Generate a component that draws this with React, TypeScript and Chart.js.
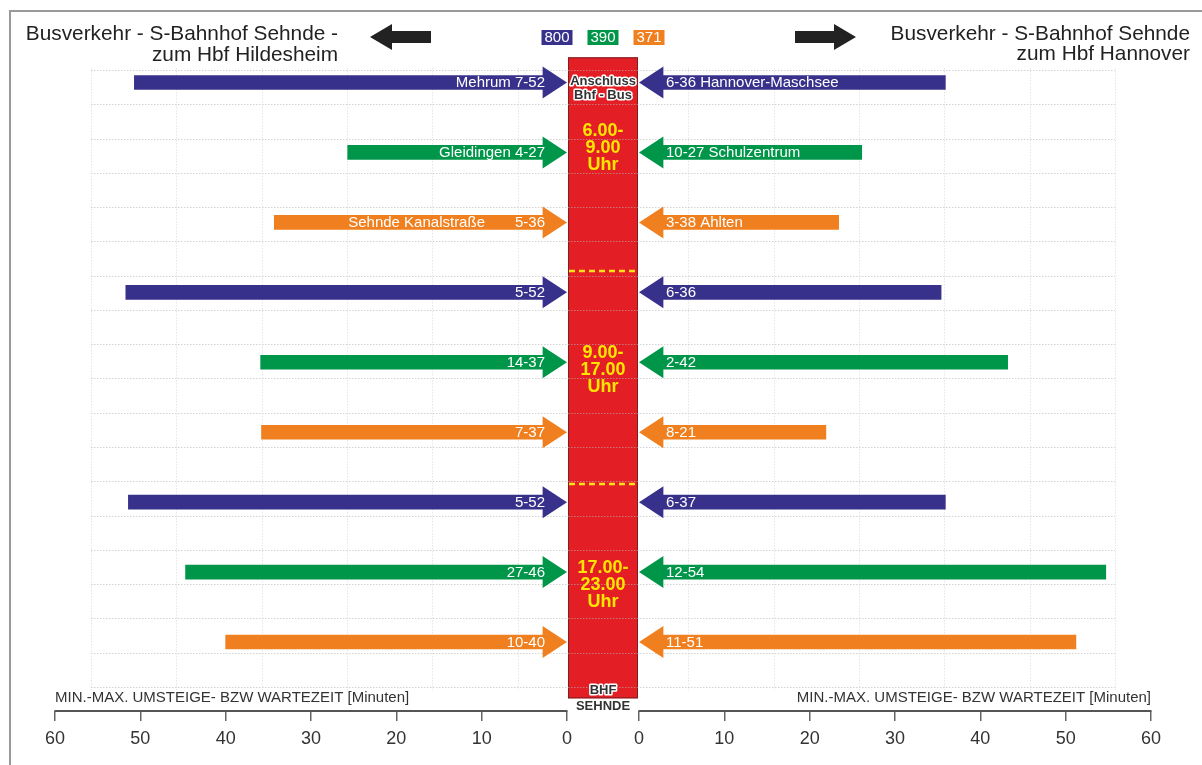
import { useEffect, useRef } from 'react';
import { Chart, registerables } from 'chart.js';

Chart.register(...registerables);

const FONT = '"Liberation Sans", Arial, Helvetica, sans-serif';

// ---------------- data ----------------
const ROUTES = ['800', '390', '371'];
const ROUTE_COLORS = ['#38318b', '#00964a', '#f0801f'];
const ROW_ROUTE = [0, 1, 2, 0, 1, 2, 0, 1, 2];
const LEFT_MAX = [50.7, 25.7, 34.3, 51.7, 35.9, 35.8, 51.4, 44.7, 40.0];
const RIGHT_MAX = [35.9, 26.1, 23.4, 35.4, 43.2, 21.9, 35.9, 54.7, 51.2];
const LEFT_LABELS: (string | string[])[] = [
  'Mehrum 7-52',
  'Gleidingen 4-27',
  ['Sehnde Kanalstraße', '5-36'],
  '5-52',
  '14-37',
  '7-37',
  '5-52',
  '27-46',
  '10-40',
];
const RIGHT_LABELS = [
  '6-36 Hannover-Maschsee',
  '10-27 Schulzentrum',
  '3-38 Ahlten',
  '6-36',
  '2-42',
  '8-21',
  '6-37',
  '12-54',
  '11-51',
];
const PERIODS = [
  ['6.00-', '9.00', 'Uhr'],
  ['9.00-', '17.00', 'Uhr'],
  ['17.00-', '23.00', 'Uhr'],
];
const X_TICKS = [0, 10, 20, 30, 40, 50, 60];
const AXIS_TITLE = 'MIN.-MAX. UMSTEIGE- BZW WARTEZEIT [Minuten]';
const TITLE_LEFT = ['Busverkehr - S-Bahnhof Sehnde -', 'zum Hbf Hildesheim'];
const TITLE_RIGHT = ['Busverkehr - S-Bahnhof Sehnde', 'zum Hbf Hannover'];
const BAND_TOP_TEXT = ['Anschluss', 'Bhf - Bus'];
const BAND_BOTTOM_TEXT = ['BHF', 'SEHNDE'];

// ---------------- layout constants ----------------
const GAP = 4.22; // half width of the central band (minutes)
const HEAD = 2.8; // arrow-head length (minutes)
const X_MAX = 60 + GAP;
const Y_MIN = -0.5;
const Y_MAX = 8.986;
const BAND_TOP = -0.36;
const BAND_BOTTOM = 8.805;
const DIVIDERS = [2.695, 5.74];
const PERIOD_CENTER = [0.936, 4.11, 7.185];
const GRID_H_START = -0.179;
const GRID_H_STEP = 0.49;
const GRID_H_COUNT = 19;
const GRID_V_TOP = -0.207;
const GRID_V_BOTTOM = 8.686;

function outlined(ctx: CanvasRenderingContext2D, text: string, x: number, y: number) {
  ctx.lineJoin = 'round';
  ctx.lineWidth = 3;
  ctx.strokeStyle = '#ffffff';
  ctx.strokeText(text, x, y);
  ctx.fillStyle = '#333333';
  ctx.fillText(text, x, y);
}

const decor = {
  id: 'decor',
  beforeDatasetsDraw(chart: any) {
    const { ctx } = chart;
    const xs = chart.scales.x;
    const ys = chart.scales.y;
    const bx1 = xs.getPixelForValue(-GAP) + 1;
    const bx2 = xs.getPixelForValue(GAP) - 1;
    const by1 = ys.getPixelForValue(BAND_TOP);
    const by2 = ys.getPixelForValue(BAND_BOTTOM);
    ctx.save();
    ctx.fillStyle = '#e31e25';
    ctx.fillRect(bx1, by1, bx2 - bx1, by2 - by1);
    ctx.strokeStyle = '#7a1f1f';
    ctx.lineWidth = 1;
    ctx.strokeRect(bx1 + 0.5, by1 + 0.5, bx2 - bx1 - 1, by2 - by1 - 1);

    ctx.lineWidth = 1;
    ctx.setLineDash([1.5, 1.5]);
    ctx.strokeStyle = 'rgba(180,180,180,0.6)';
    for (let k = 0; k < GRID_H_COUNT; k++) {
      const y = Math.round(ys.getPixelForValue(GRID_H_START + k * GRID_H_STEP)) + 0.5;
      ctx.beginPath();
      ctx.moveTo(xs.getPixelForValue(-60), y);
      ctx.lineTo(xs.getPixelForValue(60), y);
      ctx.stroke();
    }
    ctx.strokeStyle = 'rgba(200,200,200,0.45)';
    for (let v = -60; v <= 60; v += 10) {
      if (v === 0) continue;
      const x = Math.round(xs.getPixelForValue(v)) + 0.5;
      ctx.beginPath();
      ctx.moveTo(x, ys.getPixelForValue(GRID_V_TOP));
      ctx.lineTo(x, ys.getPixelForValue(GRID_V_BOTTOM));
      ctx.stroke();
    }

    ctx.strokeStyle = '#fbe11a';
    ctx.lineWidth = 2.5;
    ctx.setLineDash([6, 4]);
    for (const d of DIVIDERS) {
      const y = ys.getPixelForValue(d);
      ctx.beginPath();
      ctx.moveTo(bx1 + 1, y);
      ctx.lineTo(bx2, y);
      ctx.stroke();
    }
    ctx.setLineDash([]);
    ctx.restore();
  },
  afterDatasetsDraw(chart: any) {
    const { ctx } = chart;
    const xs = chart.scales.x;
    const ys = chart.scales.y;
    const leftTip = xs.getPixelForValue(-GAP);
    const leftBase = xs.getPixelForValue(-(GAP + HEAD));
    const rightTip = xs.getPixelForValue(GAP);
    const rightBase = xs.getPixelForValue(GAP + HEAD);
    ctx.save();
    for (let i = 0; i < ROW_ROUTE.length; i++) {
      const y = ys.getPixelForValue(i);
      ctx.fillStyle = ROUTE_COLORS[ROW_ROUTE[i]];
      ctx.beginPath();
      ctx.moveTo(leftBase - 0.5, y - 16);
      ctx.lineTo(leftTip, y);
      ctx.lineTo(leftBase - 0.5, y + 16);
      ctx.closePath();
      ctx.fill();
      ctx.beginPath();
      ctx.moveTo(rightBase + 0.5, y - 16);
      ctx.lineTo(rightTip, y);
      ctx.lineTo(rightBase + 0.5, y + 16);
      ctx.closePath();
      ctx.fill();
    }
    ctx.font = `15px ${FONT}`;
    ctx.fillStyle = '#ffffff';
    ctx.textBaseline = 'middle';
    for (let i = 0; i < ROW_ROUTE.length; i++) {
      const y = ys.getPixelForValue(i) + 0.5;
      const lbl = LEFT_LABELS[i];
      const tx = leftTip - 22;
      ctx.textAlign = 'right';
      if (Array.isArray(lbl)) {
        const last = lbl[lbl.length - 1];
        ctx.fillText(last, tx, y);
        ctx.fillText(lbl[0], tx - ctx.measureText(last).width - 30, y);
      } else {
        ctx.fillText(lbl, tx, y);
      }
      ctx.textAlign = 'left';
      ctx.fillText(RIGHT_LABELS[i], rightTip + 27, y);
    }

    // band texts
    const cx = (leftTip + rightTip) / 2;
    const by1 = ys.getPixelForValue(BAND_TOP);
    const by2 = ys.getPixelForValue(BAND_BOTTOM);
    ctx.textAlign = 'center';
    ctx.font = `bold 13px ${FONT}`;
    outlined(ctx, BAND_TOP_TEXT[0], cx, by1 + 24.5);
    outlined(ctx, BAND_TOP_TEXT[1], cx, by1 + 38);
    outlined(ctx, BAND_BOTTOM_TEXT[0], cx, by2 - 7.5);
    outlined(ctx, BAND_BOTTOM_TEXT[1], cx, by2 + 8);

    ctx.font = `bold 18px ${FONT}`;
    ctx.fillStyle = '#ffe600';
    PERIODS.forEach((lines, g) => {
      const yc = ys.getPixelForValue(PERIOD_CENTER[g]);
      lines.forEach((t, k) => ctx.fillText(t, cx, yc + (k - 1) * 17));
    });
    ctx.restore();
  },
  afterDraw(chart: any) {
    const { ctx } = chart;
    const xs = chart.scales.x;
    const axisY = xs.top;
    ctx.save();
    // axis lines (two separate axes)
    ctx.strokeStyle = '#555555';
    ctx.lineWidth = 2;
    ctx.beginPath();
    ctx.moveTo(xs.getPixelForValue(-X_MAX) - 0.5, axisY);
    ctx.lineTo(xs.getPixelForValue(-GAP) + 0.5, axisY);
    ctx.moveTo(xs.getPixelForValue(GAP) - 0.5, axisY);
    ctx.lineTo(xs.getPixelForValue(X_MAX) + 0.5, axisY);
    ctx.stroke();

    // axis titles
    ctx.font = `15px ${FONT}`;
    ctx.fillStyle = '#333333';
    ctx.textBaseline = 'alphabetic';
    ctx.textAlign = 'left';
    ctx.fillText(AXIS_TITLE, xs.getPixelForValue(-X_MAX), axisY - 9);
    ctx.textAlign = 'right';
    ctx.fillText(AXIS_TITLE, xs.getPixelForValue(X_MAX), axisY - 9);

    // headings
    ctx.font = `20.8px ${FONT}`;
    ctx.fillStyle = '#222222';
    ctx.textAlign = 'right';
    ctx.fillText(TITLE_LEFT[0], 338, 40);
    ctx.fillText(TITLE_LEFT[1], 338, 60.5);
    ctx.fillText(TITLE_RIGHT[0], 1190, 39.5);
    ctx.fillText(TITLE_RIGHT[1], 1190, 60);

    // direction arrows
    ctx.fillStyle = '#222222';
    ctx.beginPath();
    ctx.moveTo(370, 37);
    ctx.lineTo(392, 24);
    ctx.lineTo(392, 31);
    ctx.lineTo(431, 31);
    ctx.lineTo(431, 43);
    ctx.lineTo(392, 43);
    ctx.lineTo(392, 50);
    ctx.closePath();
    ctx.fill();
    ctx.beginPath();
    ctx.moveTo(856, 37);
    ctx.lineTo(834, 24);
    ctx.lineTo(834, 31);
    ctx.lineTo(795, 31);
    ctx.lineTo(795, 43);
    ctx.lineTo(834, 43);
    ctx.lineTo(834, 50);
    ctx.closePath();
    ctx.fill();

    // route legend
    const cx = (xs.getPixelForValue(-GAP) + xs.getPixelForValue(GAP)) / 2;
    ctx.font = `15px ${FONT}`;
    ctx.textAlign = 'center';
    ctx.textBaseline = 'middle';
    ROUTES.forEach((r, i) => {
      const bxc = cx + (i - 1) * 46;
      ctx.fillStyle = ROUTE_COLORS[i];
      ctx.fillRect(bxc - 15.5, 30, 31, 15);
      ctx.fillStyle = '#ffffff';
      ctx.fillText(r, bxc, 38);
    });

    // frame
    ctx.strokeStyle = '#9a9a9a';
    ctx.lineWidth = 2;
    ctx.beginPath();
    ctx.moveTo(10, 765);
    ctx.lineTo(10, 11);
    ctx.lineTo(1202, 11);
    ctx.stroke();
    ctx.restore();
  },
};

export default function App() {
  const ref = useRef<HTMLCanvasElement | null>(null);
  useEffect(() => {
    if (!ref.current) return;
    const colors = ROW_ROUTE.map((r) => ROUTE_COLORS[r]);
    const chart = new Chart(ref.current, {
      type: 'bar',
      data: {
        datasets: [
          {
            label: 'links',
            data: LEFT_MAX.map((v, i) => ({ x: [-(GAP + v), -(GAP + HEAD)], y: i })) as any,
            backgroundColor: colors,
            borderWidth: 0,
            barThickness: 14,
            grouped: false,
          },
          {
            label: 'rechts',
            data: RIGHT_MAX.map((v, i) => ({ x: [GAP + HEAD, GAP + v], y: i })) as any,
            backgroundColor: colors,
            borderWidth: 0,
            barThickness: 14,
            grouped: false,
          },
        ],
      },
      options: {
        indexAxis: 'y',
        animation: false,
        responsive: false,
        devicePixelRatio: 1,
        layout: { padding: { left: 55, right: 51, top: 47.53, bottom: 8.4 } },
        font: { family: FONT },
        scales: {
          x: {
            type: 'linear',
            min: -X_MAX,
            max: X_MAX,
            offset: false,
            afterBuildTicks: (s: any) => {
              s.ticks = [
                ...X_TICKS.slice().reverse().map((t) => ({ value: -(GAP + t) })),
                ...X_TICKS.map((t) => ({ value: GAP + t })),
              ];
            },
            ticks: {
              autoSkip: false,
              maxRotation: 0,
              padding: 7,
              color: '#333333',
              font: { size: 18, family: FONT },
              callback: (v: any) => String(Math.round(Math.abs(Number(v)) - GAP)),
            },
            grid: {
              display: true,
              drawOnChartArea: false,
              drawTicks: true,
              tickLength: 10,
              color: '#666666',
              lineWidth: 1.5,
              offset: false,
            },
            border: { display: false },
          },
          y: {
            type: 'linear',
            reverse: true,
            min: Y_MIN,
            max: Y_MAX,
            offset: false,
            grace: 0,
            display: false,
            grid: { offset: false },
          },
        },
        plugins: {
          legend: { display: false },
          tooltip: { enabled: false },
        },
      } as any,
      plugins: [decor],
    });
    return () => chart.destroy();
  }, []);
  return (
    <div style={{ position: 'absolute', left: 0, top: 0, width: 1202, height: 765, background: '#ffffff' }}>
      <canvas ref={ref} width={1202} height={765} style={{ display: 'block' }} />
    </div>
  );
}
